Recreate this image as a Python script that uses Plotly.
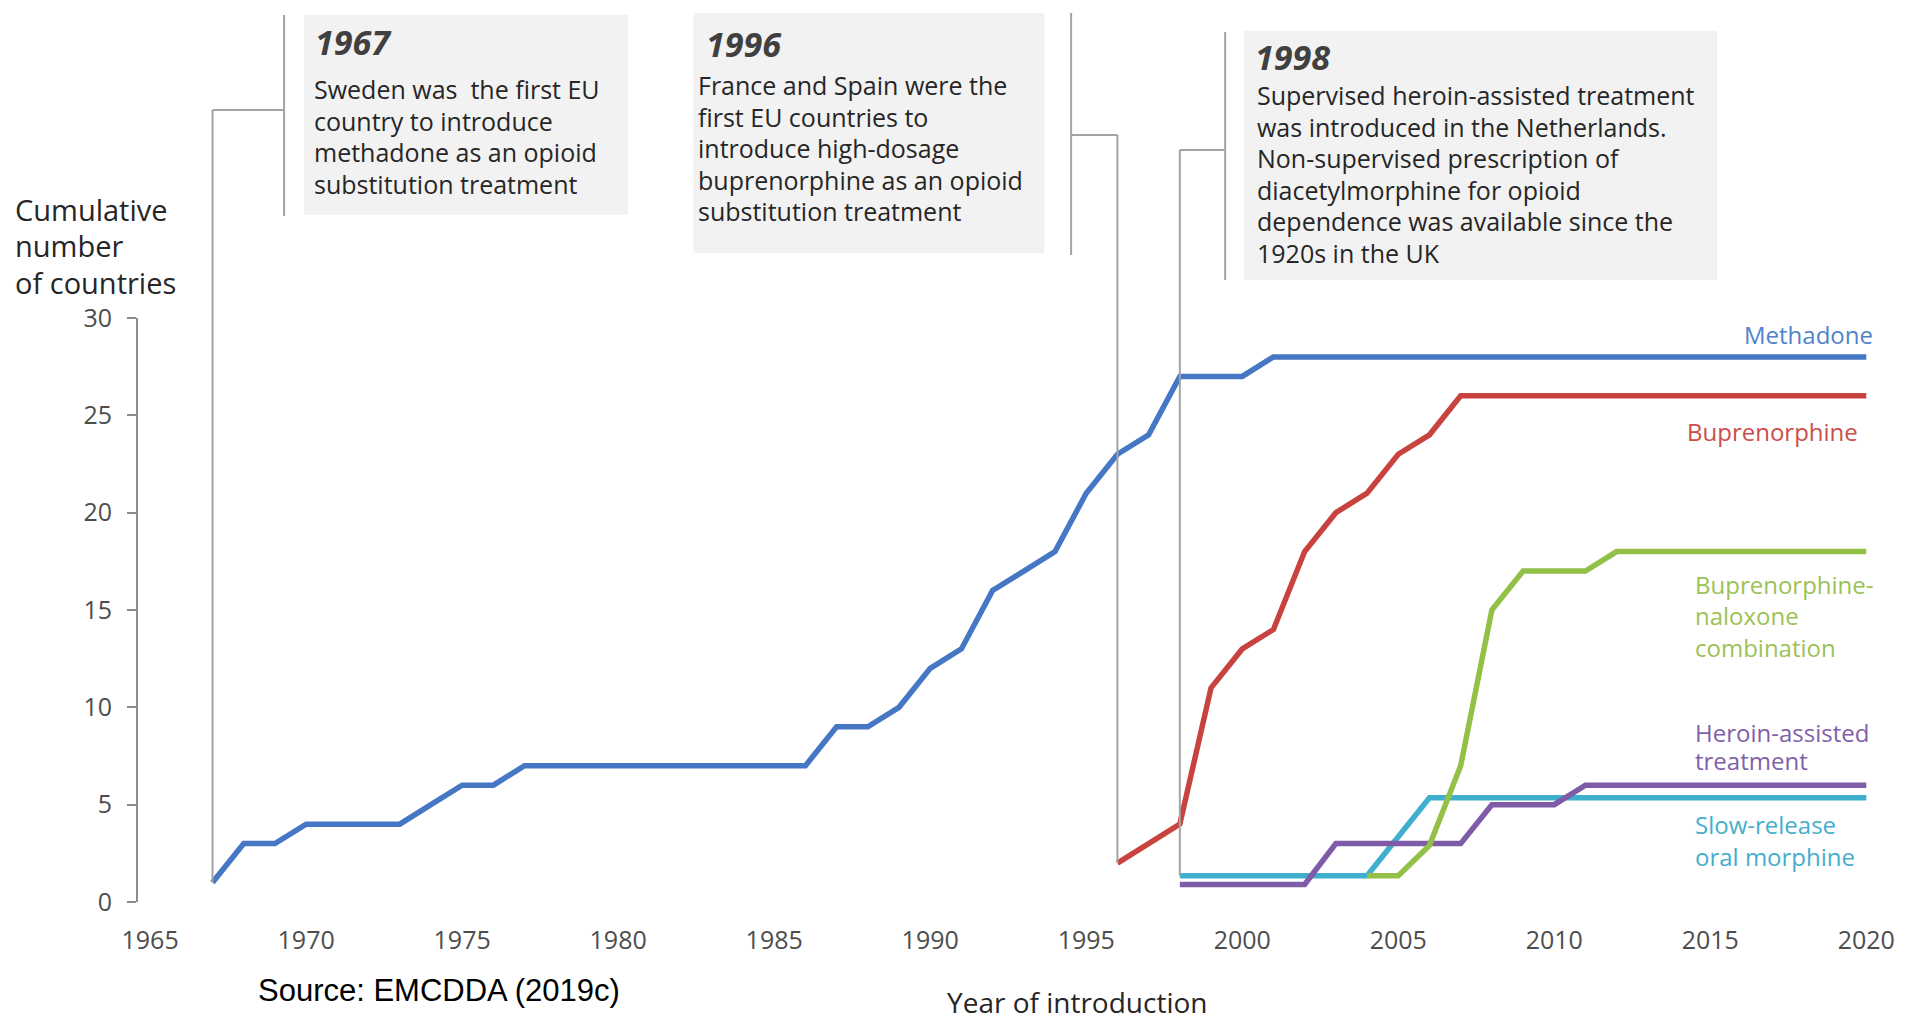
import plotly.graph_objects as go

# ---------------- data ----------------
years_methadone = list(range(1967, 2021))
methadone = [1, 3, 3, 4, 4, 4, 4, 5, 6, 6,
             7, 7, 7, 7, 7, 7, 7, 7, 7, 7,
             9, 9, 10, 12, 13, 16, 17, 18, 21, 23, 24, 27, 27, 27,
             28, 28, 28, 28, 28, 28, 28, 28, 28, 28,
             28, 28, 28, 28, 28, 28, 28, 28, 28, 28]

years_bup = list(range(1996, 2021))
buprenorphine = [2, 3, 4, 11, 13, 14, 18, 20, 21, 23, 24, 26,
                 26, 26, 26, 26, 26, 26, 26, 26, 26, 26, 26, 26, 26]

years_bnx = list(range(2004, 2021))
bup_naloxone = [1.35, 1.35, 2.9, 7, 15, 17, 17, 17,
                18, 18, 18, 18, 18, 18, 18, 18, 18]

years_hat = list(range(1998, 2021))
heroin_assisted = [0.9, 0.9, 0.9, 0.9, 0.9, 3, 3, 3, 3, 3, 5, 5, 5,
                   6, 6, 6, 6, 6, 6, 6, 6, 6, 6]

years_srom = list(range(1998, 2021))
slow_release_morphine = [1.35, 1.35, 1.35, 1.35, 1.35, 1.35, 1.35, 3.35,
                         5.35, 5.35, 5.35, 5.35, 5.35, 5.35, 5.35, 5.35,
                         5.35, 5.35, 5.35, 5.35, 5.35, 5.35, 5.35]

x_ticks = [1965, 1970, 1975, 1980, 1985, 1990, 1995, 2000, 2005, 2010, 2015, 2020]
y_ticks = [0, 5, 10, 15, 20, 25, 30]

series_names = ["Methadone", "Buprenorphine", "Buprenorphine-naloxone combination",
                "Heroin-assisted treatment", "Slow-release oral morphine"]

box1_title = "1967"
box1_lines = ["Sweden was  the first EU", "country to introduce",
              "methadone as an opioid", "substitution treatment"]
box2_title = "1996"
box2_lines = ["France and Spain were the", "first EU countries to",
              "introduce high-dosage", "buprenorphine as an opioid",
              "substitution treatment"]
box3_title = "1998"
box3_lines = ["Supervised heroin-assisted treatment",
              "was introduced in the Netherlands.",
              "Non-supervised prescription of",
              "diacetylmorphine for opioid",
              "dependence was available since the",
              "1920s in the UK"]

# ---------------- geometry ----------------
W, H = 1907, 1020
L, R, T, B = 138, 12, 318, 118
PW = W - L - R
PH = H - T - B
PX_PER_YEAR = 31.4
X0 = 1967 - 75 / PX_PER_YEAR
X1 = X0 + PW / PX_PER_YEAR
Y0, Y1 = 0, 30


def px(x):
    return (x - L) / PW


def py(y):
    return (H - B - y) / PH


def yr2paper(year):
    return (year - X0) / (X1 - X0)


def val2paper(v):
    return (v - Y0) / (Y1 - Y0)


FONT = "Open Sans"
GRAY_LINE = "#A3A3A3"
TEXT_DARK = "#262626"

fig = go.Figure()

colors = ["#4677C4", "#C8433F", "#93C047", "#7E5CA8", "#3FAFCE"]
xs = [years_methadone, years_bup, years_bnx, years_hat, years_srom]
ys = [methadone, buprenorphine, bup_naloxone, heroin_assisted, slow_release_morphine]
order = [4, 3, 2, 1, 0]
for i in order:
    fig.add_trace(go.Scatter(x=xs[i], y=ys[i], mode="lines", name=series_names[i],
                             line=dict(color=colors[i], width=5.5),
                             showlegend=False, hoverinfo="x+y+name"))

shapes = []
annotations = []

# annotation boxes
for (x0, y0, x1, y1) in [(305, 15, 631, 215), (697, 13, 1050, 253), (1251, 31, 1727, 280)]:
    shapes.append(dict(type="rect", xref="paper", yref="paper",
                       x0=px(x0), x1=px(x1), y0=py(y1), y1=py(y0),
                       fillcolor="#F2F2F2", line=dict(width=0), layer="below"))


def connector(bar_x, bar_y0, bar_y1, elbow_y, year, value):
    # vertical bar next to the box
    shapes.append(dict(type="line", xref="paper", yref="paper",
                       x0=px(bar_x), x1=px(bar_x), y0=py(bar_y0), y1=py(bar_y1),
                       line=dict(color=GRAY_LINE, width=2)))
    # horizontal elbow
    shapes.append(dict(type="line", xref="paper", yref="paper",
                       x0=px(bar_x), x1=yr2paper(year), y0=py(elbow_y), y1=py(elbow_y),
                       line=dict(color=GRAY_LINE, width=2)))
    # drop down to data point
    shapes.append(dict(type="line", xref="paper", yref="paper",
                       x0=yr2paper(year), x1=yr2paper(year), y0=py(elbow_y),
                       y1=val2paper(value),
                       line=dict(color=GRAY_LINE, width=2)))


connector(285, 15, 216, 110, years_methadone[0], methadone[0])
connector(1077, 13, 255, 135, years_bup[0], buprenorphine[0])
connector(1232, 32, 280, 150, years_srom[0], slow_release_morphine[0])


def text(x, y, s, size, color, xanchor="left", family=FONT):
    annotations.append(dict(xref="paper", yref="paper", x=px(x), y=py(y), text=s,
                            showarrow=False, xanchor=xanchor, yanchor="middle",
                            font=dict(family=family, size=size, color=color)))


def block(x, y_first, spacing, lines, size, color, xanchor="left"):
    for k, s in enumerate(lines):
        text(x, y_first + k * spacing, s, size, color, xanchor)


# box texts
text(314, 42, "<b><i>" + box1_title + "</i></b>", 34, "#404040")
block(313, 89, 31.5, box1_lines, 25, TEXT_DARK)
text(708, 44, "<b><i>" + box2_title + "</i></b>", 34, "#404040")
block(700, 85, 31.5, box2_lines, 25, TEXT_DARK)
text(1260, 57, "<b><i>" + box3_title + "</i></b>", 34, "#404040")
block(1262, 95, 31.6, box3_lines, 25, TEXT_DARK)

# y axis title
block(12, 209, 37, ["Cumulative", "number", "of countries"], 29, TEXT_DARK)

# series labels
label_colors = ["#4F83CC", "#CC4E4A", "#9CC255", "#8061A8", "#45AECC"]
text(1886, 334, "Methadone", 24, label_colors[0], xanchor="right")
text(1871, 431, "Buprenorphine", 24, label_colors[1], xanchor="right")
block(1703, 584, 31.5, ["Buprenorphine-", "naloxone", "combination"], 24, label_colors[2])
block(1703, 732, 28, ["Heroin-assisted", "treatment"], 24, label_colors[3])
block(1703, 824, 32, ["Slow-release", "oral morphine"], 24, label_colors[4])

# axis title and source
text(1083, 1002, "Year of introduction", 28, TEXT_DARK, xanchor="center")
text(257, 990, "Source: EMCDDA (2019c)", 31, "#000000", family="Liberation Sans")

fig.update_layout(
    width=W, height=H,
    margin=dict(l=L, r=R, t=T, b=B, pad=0),
    plot_bgcolor="white", paper_bgcolor="white",
    shapes=shapes, annotations=annotations,
    showlegend=False,
    xaxis=dict(range=[X0, X1], tickmode="array", tickvals=x_ticks,
               ticktext=[str(v) for v in x_ticks], showgrid=False, zeroline=False,
               showline=False, ticks="", ticklabelstandoff=21,
               tickfont=dict(family=FONT, size=25, color="#4D4D4D")),
    yaxis=dict(range=[Y0, Y1], tickmode="array", tickvals=y_ticks,
               ticktext=[str(v) for v in y_ticks], showgrid=False, zeroline=False,
               showline=True, linecolor="#8C8C8C", linewidth=2,
               ticks="outside", ticklen=9, tickwidth=2, tickcolor="#8C8C8C",
               ticklabelstandoff=10,
               tickfont=dict(family=FONT, size=25, color="#4D4D4D")),
)

fig.write_html("out.html")
